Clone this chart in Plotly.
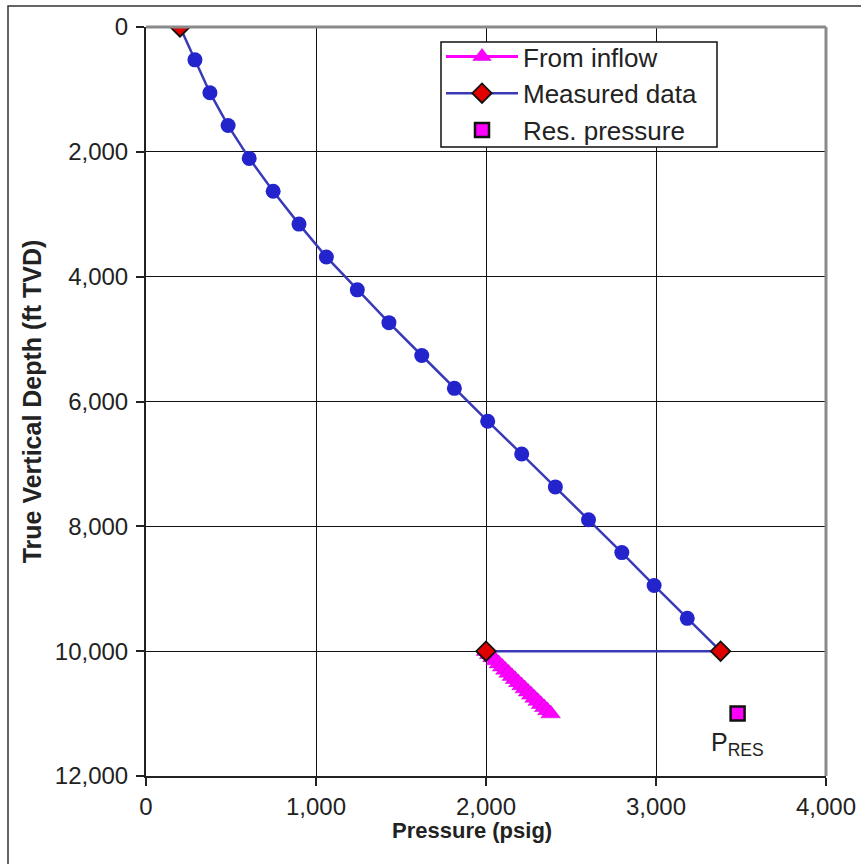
import plotly.graph_objects as go

# Computed pressure traverse down the well (psig vs ft TVD)
traverse_depth = [0, 526, 1053, 1579, 2105, 2632, 3158, 3684, 4211, 4737,
                  5263, 5789, 6316, 6842, 7368, 7895, 8421, 8947, 9474, 10000]
traverse_pressure = [200, 288, 376, 483, 607, 748, 900, 1061, 1243, 1429,
                     1622, 1814, 2010, 2210, 2408, 2603, 2799, 2989, 3184, 3380]

# Measured points: wellhead, bottom hole (flowing), bottom hole (inflow side)
measured_pressure = [200, None, 3380, 2000]
measured_depth = [0, None, 10000, 10000]

# Pressure computed from the inflow relationship below the gauge depth
inflow_depth = [10000, 10050, 10100, 10150, 10200, 10250, 10300, 10350, 10400,
                10450, 10500, 10550, 10600, 10650, 10700, 10750, 10800, 10850,
                10900, 10950, 11000]
inflow_pressure = [2000, 2019, 2038, 2057, 2076, 2095, 2114, 2133, 2152,
                   2171, 2190, 2209, 2228, 2247, 2266, 2285, 2304, 2323,
                   2342, 2361, 2380]

# Reservoir pressure at mid-perforation depth
res_pressure = [3480]
res_depth = [11000]

x_ticks = [0, 1000, 2000, 3000, 4000]
y_ticks = [0, 2000, 4000, 6000, 8000, 10000, 12000]

FONT = "Liberation Sans, Arial, sans-serif"
TXT = "#222222"

fig = go.Figure()

traverse_sizes = [0] + [15] * (len(traverse_depth) - 2) + [0]
fig.add_trace(go.Scatter(
    x=traverse_pressure, y=traverse_depth, mode="lines+markers",
    line=dict(color="#3a3ab8", width=2.5),
    marker=dict(color="#2424cc", size=traverse_sizes, opacity=1,
                line=dict(width=0)),
    showlegend=False, hoverinfo="skip",
))

fig.add_trace(go.Scatter(
    x=inflow_pressure, y=inflow_depth, mode="lines+markers", name="From inflow",
    line=dict(color="#ff00ff", width=3),
    marker=dict(symbol="triangle-up", color="#ff00ff", size=17, opacity=1,
                line=dict(color="#c000d0", width=0.5)),
))

fig.add_trace(go.Scatter(
    x=measured_pressure, y=measured_depth, mode="lines+markers",
    name="Measured data", connectgaps=False,
    line=dict(color="#3a3ab8", width=2.5),
    marker=dict(symbol="diamond", color="#e00000", size=15, opacity=1,
                line=dict(color="#111111", width=1.8)),
))

fig.add_trace(go.Scatter(
    x=res_pressure, y=res_depth, mode="markers", name="Res. pressure",
    marker=dict(symbol="square", color="#ff00ff", size=14,
                line=dict(color="#111111", width=2.5)),
))

fig.add_annotation(
    x=res_pressure[0], y=res_depth[0] + 480, xref="x", yref="y",
    text="P<sub>RES</sub>", showarrow=False,
    font=dict(family=FONT, size=25, color=TXT),
)

# pixel -> paper helpers for the fixed plot area
L, T, W, H = 146, 27, 680, 749
def px_x(p):
    return (p - L) / W
def px_y(p):
    return 1 - (p - T) / H

# x-axis title, set slightly left of the plot centre
fig.add_annotation(
    x=px_x(472), y=px_y(830), xref="paper", yref="paper",
    xanchor="center", yanchor="middle",
    text="Pressure (psig)", showarrow=False,
    font=dict(family=FONT, size=22, weight="bold", color=TXT),
)

# outer chart frame (left and top edges visible)
fig.add_shape(type="rect", xref="paper", yref="paper",
              x0=px_x(8), x1=px_x(900), y0=px_y(900), y1=px_y(6),
              line=dict(color="#333333", width=1.5), fillcolor="rgba(0,0,0,0)",
              layer="below")
# plot-area border, grey on top and right
fig.add_shape(type="line", xref="paper", yref="paper", x0=0, x1=1, y0=1, y1=1,
              line=dict(color="#8a8a8a", width=3))
fig.add_shape(type="line", xref="paper", yref="paper", x0=1, x1=1, y0=0, y1=1,
              line=dict(color="#8a8a8a", width=3))
# legend box
fig.add_shape(type="rect", xref="paper", yref="paper",
              x0=px_x(441), x1=px_x(717), y0=px_y(147), y1=px_y(42),
              line=dict(color="#111111", width=1.5), fillcolor="white",
              layer="above")

fig.update_layout(
    width=861, height=864,
    margin=dict(l=L, r=861 - L - W, t=T, b=864 - T - H, autoexpand=False),
    paper_bgcolor="white", plot_bgcolor="white",
    font=dict(family=FONT, size=25, color=TXT),
    showlegend=True,
    legend=dict(
        x=px_x(441), y=px_y(33), xanchor="left", yanchor="top",
        bgcolor="rgba(0,0,0,0)", borderwidth=0,
        font=dict(family=FONT, size=26, color=TXT),
        itemwidth=72, tracegroupgap=0,
    ),
    xaxis=dict(
        range=[0, 4000], tickvals=x_ticks, tickformat=",", automargin=False,
        showgrid=True, gridcolor="#111111", gridwidth=1.3,
        showline=True, linecolor="#222222", linewidth=2,
        ticks="outside", ticklen=8, tickcolor="#222222", tickwidth=1.5,
        tickfont=dict(family=FONT, size=24, color=TXT),
        zeroline=False,
    ),
    yaxis=dict(
        range=[12000, 0], tickvals=y_ticks, tickformat=",", automargin=False,
        showgrid=True, gridcolor="#111111", gridwidth=1.3,
        showline=True, linecolor="#222222", linewidth=2,
        ticks="outside", ticklen=8, tickcolor="#222222", tickwidth=1.5,
        tickfont=dict(family=FONT, size=24, color=TXT),
        ticklabelstandoff=3,
        zeroline=False,
        title=dict(text="True Vertical Depth (ft TVD)", standoff=6,
                   font=dict(family=FONT, size=25, weight="bold", color=TXT)),
    ),
)

fig.write_html("out.html")
